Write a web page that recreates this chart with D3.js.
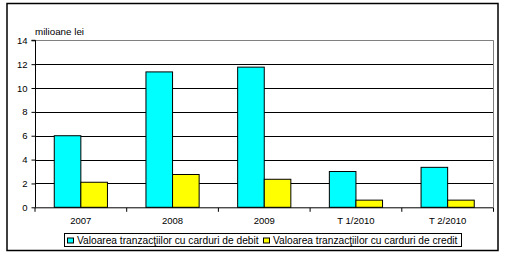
<!DOCTYPE html>
<html><head><meta charset="utf-8">
<script src="https://cdn.jsdelivr.net/npm/d3@7"></script>
<style>body{margin:0;background:#fff}svg{display:block}text{font-family:"Liberation Sans",Arial,sans-serif;fill:#000}</style>
</head><body><svg id="c" width="505" height="257"></svg>
<script>
const categories = ["2007","2008","2009","T 1/2010","T 2/2010"];
const debitValues = [6.0, 11.35, 11.75, 3.0, 3.35];
const creditValues = [2.1, 2.75, 2.35, 0.6, 0.6];
const yTicks = [0,2,4,6,8,10,12,14];
const seriesNames = ["Valoarea tranzacţiilor cu carduri de debit","Valoarea tranzacţiilor cu carduri de credit"];
const colors = ["#00FFFF","#FFFF00"];

const svg = d3.select("#c");
svg.append("rect").attr("x",7).attr("y",3.5).attr("width",491).attr("height",247)
  .attr("fill","none").attr("stroke","#000").attr("stroke-width",1.5);

const L=35, R=493.5, T=40.3, B=207.3;
const x = d3.scaleBand().domain(categories).range([L,R]);
const y = d3.scaleLinear().domain([0,14]).range([B,T]);

const g = svg.append("g");
yTicks.forEach(t=>{
  if(t===0) return;
  g.append("line").attr("x1",L).attr("x2",R).attr("y1",Math.round(y(t))+0.5).attr("y2",Math.round(y(t))+0.5)
   .attr("stroke", t===14 ? "#808080" : "#000").attr("stroke-width",1);
});
g.append("line").attr("x1",R).attr("x2",R).attr("y1",T).attr("y2",B).attr("stroke","#808080");

const bw = x.bandwidth()*0.29;
const series = [debitValues, creditValues];
series.forEach((vals,si)=>{
  g.selectAll(null).data(vals).enter().append("rect")
   .attr("x",(d,i)=>x(categories[i])+x.bandwidth()/2 - bw + si*bw)
   .attr("y",d=>y(d)).attr("width",bw).attr("height",d=>B-y(d))
   .attr("fill",colors[si]).attr("stroke","#000").attr("stroke-width",1);
});

const ya = svg.append("g").attr("transform",`translate(${L+0.5},0)`)
  .call(d3.axisLeft(y).tickValues(yTicks).tickSize(4).tickPadding(4));
ya.select(".domain").attr("stroke","#000").attr("d",`M-4,${y(14)}H0V${B}`);
ya.selectAll("text").style("font-size","9.5px").style("font-family","'Liberation Sans',Arial,sans-serif");
const xa = svg.append("g").attr("transform",`translate(0,${B+0.5})`);
xa.append("line").attr("x1",L).attr("x2",R).attr("stroke","#000");
const bounds = categories.map(c=>x(c)).concat([R]);
xa.selectAll(null).data(bounds).enter().append("line")
  .attr("x1",d=>d).attr("x2",d=>d).attr("y1",0).attr("y2",4).attr("stroke","#000");
xa.selectAll(null).data(categories).enter().append("text")
  .attr("x",d=>x(d)+x.bandwidth()/2).attr("y",16.5).attr("text-anchor","middle")
  .style("font-size","9.5px").text(d=>d);

svg.append("text").attr("x",35).attr("y",35).style("font-size","9.8px").text("milioane lei");

const lg = svg.append("g");
lg.append("rect").attr("x",64.5).attr("y",233.5).attr("width",397).attr("height",13)
  .attr("fill","#fff").attr("stroke","#000");
const lx = [67.5, 263.5];
seriesNames.forEach((n,i)=>{
  lg.append("rect").attr("x",lx[i]).attr("y",238).attr("width",6).attr("height",5)
    .attr("fill",colors[i]).attr("stroke","#000").attr("stroke-width",1);
  lg.append("text").attr("x",lx[i]+9.5).attr("y",244).style("font-size","10.2px").text(n);
});
</script></body></html>
